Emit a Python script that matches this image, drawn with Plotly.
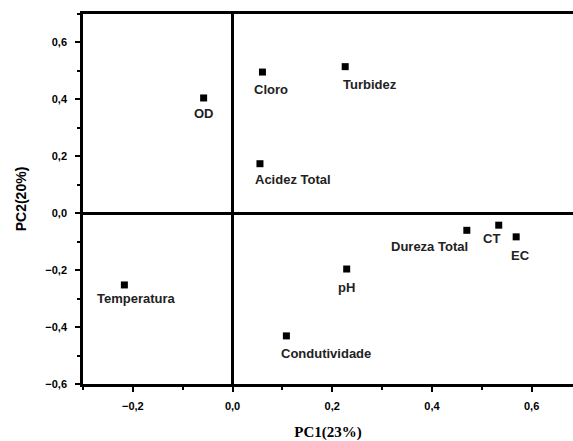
import plotly.graph_objects as go

# PCA loadings of water-quality parameters
variables = ["OD", "Cloro", "Turbidez", "Acidez Total", "Dureza Total",
             "CT", "EC", "pH", "Condutividade", "Temperatura"]
pc1 = [-0.058, 0.060, 0.226, 0.055, 0.470, 0.534, 0.569, 0.229, 0.108, -0.217]
pc2 = [0.405, 0.496, 0.515, 0.174, -0.060, -0.042, -0.083, -0.196, -0.431, -0.252]

# label offsets from each marker (pixels: right, up)
label_dx = [0, 9, 25, 33, -37, -7, 4, 0, 40, 12]
label_dy = [-16, -17, -18, -16, -16, -13, -19, -18, -18, -14]

x_ticks = [-0.2, 0.0, 0.2, 0.4, 0.6]
y_ticks = [-0.6, -0.4, -0.2, 0.0, 0.2, 0.4, 0.6]


def tick_text(v):
    s = f"{abs(v):.1f}".replace(".", ",")
    return "<b>" + ("\u2212" if v < 0 else "") + s + "</b>"


fig = go.Figure()
fig.add_trace(go.Scatter(
    x=pc1, y=pc2, mode="markers",
    marker=dict(symbol="square", size=7, color="black"),
    hoverinfo="text", text=variables, showlegend=False,
))

for name, x, y, dx, dy in zip(variables, pc1, pc2, label_dx, label_dy):
    fig.add_annotation(
        x=x, y=y, text="<b>" + name + "</b>", showarrow=False,
        xshift=dx, yshift=dy, xanchor="center", yanchor="middle",
        font=dict(family="Liberation Sans", size=13, color="#222222"),
    )

axis_common = dict(
    showgrid=False,
    zeroline=True, zerolinecolor="black", zerolinewidth=2.5,
    showline=True, linecolor="black", linewidth=2.5,
    ticks="outside", ticklen=5, tickwidth=2, tickcolor="black",
    tickfont=dict(family="Liberation Sans", size=11, color="black"),
    minor=dict(dtick=0.1, ticks="outside", ticklen=3, tickwidth=2, tickcolor="black"),
)

fig.update_xaxes(
    **axis_common,
    range=[-0.3, 0.683], tickvals=x_ticks, ticktext=[tick_text(v) for v in x_ticks],
    mirror=True, ticklabelstandoff=5,
    title=dict(text="<b>PC1(23%)</b>", standoff=18,
               font=dict(family="Liberation Serif", size=15, color="black")),
)
fig.update_yaxes(
    **axis_common,
    range=[-0.6, 0.7], tickvals=y_ticks, ticktext=[tick_text(v) for v in y_ticks],
    ticklabelstandoff=6,
    title=dict(text="<b>PC2(20%)</b>", standoff=16,
               font=dict(family="Liberation Sans", size=14, color="black")),
)

fig.update_layout(
    width=573, height=441,
    margin=dict(l=83, r=0, t=14, b=57),
    paper_bgcolor="white", plot_bgcolor="white",
)

fig.write_html("out.html")
